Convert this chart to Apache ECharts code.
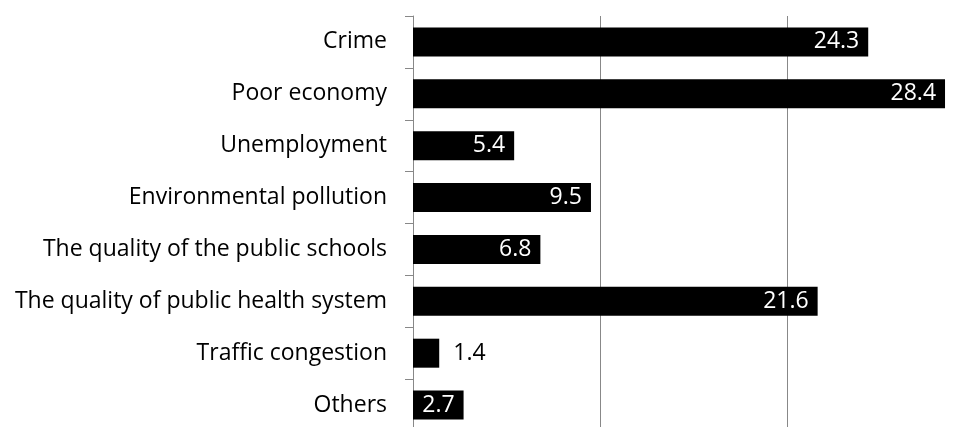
<!DOCTYPE html>
<html>
<head>
<meta charset="utf-8">
<script src="https://cdn.jsdelivr.net/npm/echarts@6/dist/echarts.min.js"></script>
<style>
  html, body { margin: 0; padding: 0; background: #fff; }
  #chart { width: 960px; height: 427px; }
</style>
</head>
<body>
<div id="chart"></div>
<script>
  // categories, top to bottom
  var categories = [
    'Crime',
    'Poor economy',
    'Unemployment',
    'Environmental pollution',
    'The quality of the public schools',
    'The quality of public health system',
    'Traffic congestion',
    'Others'
  ];
  var values = [24.3, 28.4, 5.4, 9.5, 6.8, 21.6, 1.4, 2.7];
  // bars too short to hold their label get it outside, in black
  var outsideLabels = ['Traffic congestion'];

  var fontName = 'Open Sans';

  var chart = echarts.init(document.getElementById('chart'));

  var seriesData = values.map(function (v, i) {
    var outside = outsideLabels.indexOf(categories[i]) >= 0;
    return {
      value: v,
      label: outside
        ? { position: 'right', color: '#000', distance: 14 }
        : { position: 'insideRight', color: '#fff', distance: 9 }
    };
  });

  chart.setOption({
    animation: false,
    grid: {
      top: 16,
      left: 413,
      right: -15,
      bottom: -4,
      containLabel: false,
      outerBoundsMode: 'none'
    },
    xAxis: {
      type: 'value',
      min: 0,
      max: 30,
      interval: 10,
      axisLabel: { show: false },
      axisLine: { show: false },
      axisTick: { show: false },
      splitLine: { show: true, lineStyle: { color: '#888', width: 1 } }
    },
    yAxis: {
      type: 'category',
      inverse: true,
      data: categories,
      axisLine: { show: true, lineStyle: { color: '#888', width: 1 } },
      axisTick: { show: true, length: 8, lineStyle: { color: '#888' } },
      axisLabel: {
        margin: 26,
        color: '#000',
        fontFamily: fontName,
        fontSize: 23
      }
    },
    series: [{
      type: 'bar',
      data: seriesData,
      barWidth: 29,
      itemStyle: { color: '#000' },
      label: {
        show: true,
        fontFamily: fontName,
        fontSize: 23,
        formatter: function (p) { return p.value.toFixed(1); }
      }
    }]
  });

  window.addEventListener('resize', function () {
    chart.resize();
  });
</script>
</body>
</html>
